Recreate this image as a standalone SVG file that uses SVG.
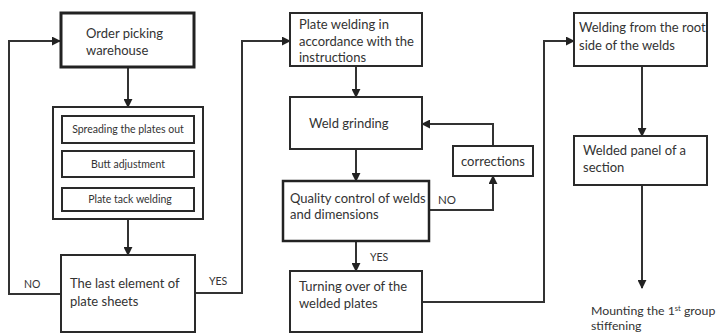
<svg xmlns="http://www.w3.org/2000/svg" width="720" height="333" viewBox="0 0 720 333">
<defs>
<marker id="ah" viewBox="0 0 10 10" refX="9" refY="5" markerWidth="4.5" markerHeight="4.5" orient="auto" markerUnits="strokeWidth">
<path d="M0,0 L10,5 L0,10 z" fill="#222"/>
</marker>
</defs>
<style>
.box{fill:#fff;stroke:#2a2a2a;stroke-width:2}
.t{font-family:Lato,"Open Sans",sans-serif;font-size:13px;fill:#333}
.s{font-family:Lato,"Open Sans",sans-serif;font-size:10.5px;fill:#333}
.c{fill:none;stroke:#333;stroke-width:2}
.a{marker-end:url(#ah)}
</style>
<rect width="720" height="333" fill="#fff"/>
<g id="connectors">
<path class="c a" d="M128,67 V107"/>
<path class="c a" d="M128,219 V255"/>
<path class="c a" d="M61,294 H9 V41 H60"/>
<path class="c a" d="M195,293 H242 V41 H290"/>
<path class="c a" d="M356,66 V97"/>
<path class="c a" d="M356,149 V181"/>
<path class="c a" d="M493,146 V124 H422"/>
<path class="c a" d="M429,210 H493 V176"/>
<path class="c a" d="M356,241 V271"/>
<path class="c a" d="M422,302 H544 V41 H574"/>
<path class="c a" d="M642,66 V136"/>
<path class="c a" d="M642,185 V288"/>
<path fill="#222" d="M124,143 L132,143 L128,150 z"/>
<path fill="#222" d="M124,177 L132,177 L128,187 z"/>
<text class="t" x="24" y="288" style="font-size:10.5px">NO</text>
<text class="t" x="209" y="285" style="font-size:10.5px">YES</text>
<text class="t" x="438" y="204" style="font-size:11.5px">NO</text>
<text class="t" x="370" y="261" style="font-size:10.5px">YES</text>
</g>
<g id="n-order">
<rect x="61" y="13" width="133" height="54" fill="#fff" stroke="#222" stroke-width="3"/>
<text class="t" x="86" y="38">Order picking</text>
<text class="t" x="86" y="55">warehouse</text>
</g>
<g id="n-group">
<rect class="box" x="53" y="107" width="150" height="112"/>
</g>
<g id="n-spread">
<rect class="box" x="62" y="116" width="132" height="27"/>
<text class="s" x="128" y="133" text-anchor="middle">Spreading the plates out</text>
</g>
<g id="n-butt">
<rect class="box" x="62" y="151" width="132" height="26"/>
<text class="s" x="128" y="168" text-anchor="middle">Butt adjustment</text>
</g>
<g id="n-tack">
<rect class="box" x="62" y="188" width="132" height="23"/>
<text class="s" x="130" y="203" text-anchor="middle">Plate tack welding</text>
</g>
<g id="n-last">
<rect class="box" x="61" y="255" width="134" height="77"/>
<text class="t" x="70" y="288">The last element of</text>
<text class="t" x="70" y="306">plate sheets</text>
</g>
<g id="n-plate">
<rect class="box" x="290" y="13" width="132" height="53"/>
<text class="t" x="299" y="29">Plate welding in</text>
<text class="t" x="299" y="46">accordance with the</text>
<text class="t" x="299" y="62">instructions</text>
</g>
<g id="n-grind">
<rect class="box" x="290" y="97" width="132" height="52"/>
<text class="t" x="309" y="128">Weld grinding</text>
</g>
<g id="n-corr">
<rect class="box" x="453" y="146" width="80" height="30"/>
<text class="t" x="493" y="166" text-anchor="middle">corrections</text>
</g>
<g id="n-quality">
<rect x="283" y="181" width="146" height="60" fill="#fff" stroke="#222" stroke-width="2.5"/>
<text class="t" x="290" y="203">Quality control of welds</text>
<text class="t" x="290" y="219">and dimensions</text>
</g>
<g id="n-turn">
<rect class="box" x="290" y="271" width="132" height="61"/>
<text class="t" x="299" y="291">Turning over of the</text>
<text class="t" x="299" y="308">welded plates</text>
</g>
<g id="n-root">
<rect class="box" x="574" y="13" width="133" height="53"/>
<text class="t" x="579" y="32">Welding from the root</text>
<text class="t" x="579" y="50">side of the welds</text>
</g>
<g id="n-panel">
<rect class="box" x="574" y="136" width="133" height="49"/>
<text class="t" x="583" y="155">Welded panel of a</text>
<text class="t" x="583" y="172">section</text>
</g>
<g id="n-mount">
<text class="t" x="591" y="315" style="font-size:12.3px">Mounting the 1<tspan dy="-4" font-size="7.5">st</tspan><tspan dy="4"> group</tspan></text>
<text class="t" x="591" y="330" style="font-size:12.3px">stiffening</text>
</g>
</svg>
